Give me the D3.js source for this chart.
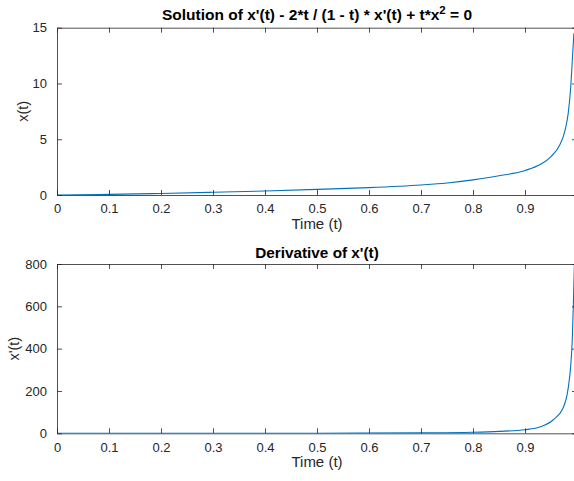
<!DOCTYPE html>
<html><head><meta charset="utf-8">
<script src="https://cdn.jsdelivr.net/npm/d3@7"></script>
<style>
body{margin:0;background:#fff;}
svg{display:block;font-family:"Liberation Sans",Arial,sans-serif;}
</style></head>
<body><svg id="c" width="574" height="481"></svg>
<script>
// Data
const tSol = [0, 0.1, 0.2, 0.3, 0.4, 0.5, 0.6, 0.7, 0.75, 0.8, 0.85, 0.9, 0.93, 0.95, 0.967, 0.977, 0.983, 0.988, 0.991, 0.994];
const xSol = [0, 0.06, 0.14, 0.24, 0.36, 0.5, 0.66, 0.9, 1.08, 1.36, 1.72, 2.2, 2.75, 3.45, 4.5, 5.8, 7.3, 9.7, 12.1, 14.5];
const tDer = [0, 0.5, 0.7, 0.8, 0.85, 0.9, 0.93, 0.954, 0.973, 0.983, 0.988, 0.991, 0.993, 0.995];
const xDer = [0, 0.5, 2, 5, 9, 17, 31, 63, 118, 212, 322, 449, 610, 800];
const xTicks = [0, 0.1, 0.2, 0.3, 0.4, 0.5, 0.6, 0.7, 0.8, 0.9, 1];
const xTickLabels = ["0", "0.1", "0.2", "0.3", "0.4", "0.5", "0.6", "0.7", "0.8", "0.9", ""];
const yTicksTop = [0, 5, 10, 15];
const yTicksBot = [0, 200, 400, 600, 800];
const titleTop = "Solution of x'(t) - 2*t / (1 - t) * x'(t) + t*x";
const titleBot = "Derivative of x'(t)";
const xLabel = "Time (t)";

const svg = d3.select("#c");
const axisColor = "#262626";
const lineColor = "#0072BD";

function panel(cfg){
  const {top, bottom, yDomain, yTicks, t, v, ylab, ylabX, id} = cfg;
  const left = 57, right = 577;
  const x = d3.scaleLinear().domain([0,1]).range([left,right]);
  const y = d3.scaleLinear().domain(yDomain).range([bottom, top]);
  const g = svg.append("g");
  g.append("clipPath").attr("id", id).append("rect")
    .attr("x", left).attr("y", top).attr("width", right-left).attr("height", bottom-top);
  const data = t.map((d,i)=>[d, v[i]]);
  g.append("path").datum(data)
    .attr("clip-path", `url(#${id})`)
    .attr("fill","none").attr("stroke", lineColor).attr("stroke-width",1.1)
    .attr("d", d3.line().x(d=>x(d[0])).y(d=>y(d[1])).curve(d3.curveMonotoneX));
  const fmt = d => xTickLabels[xTicks.indexOf(d)];
  const ax = g.append("g").attr("transform",`translate(0,${bottom})`)
    .call(d3.axisBottom(x).tickValues(xTicks).tickFormat(fmt).tickSizeInner(-5).tickSizeOuter(0).tickPadding(9));
  const axT = g.append("g").attr("transform",`translate(0,${top})`)
    .call(d3.axisTop(x).tickValues(xTicks).tickFormat("").tickSizeInner(-5).tickSizeOuter(0));
  const ay = g.append("g").attr("transform",`translate(${left},0)`)
    .call(d3.axisLeft(y).tickValues(yTicks).tickSizeInner(-5).tickSizeOuter(0).tickPadding(10));
  const ayR = g.append("g").attr("transform",`translate(${right},0)`)
    .call(d3.axisRight(y).tickValues(yTicks).tickFormat("").tickSizeInner(-5).tickSizeOuter(0));
  [ax,axT,ay,ayR].forEach(a=>{
    a.select(".domain").attr("stroke", axisColor).attr("stroke-width",1).attr("stroke-opacity",0.8);
    a.selectAll(".tick line").attr("stroke", axisColor).attr("stroke-opacity",0.8);
    a.selectAll("text").attr("fill", axisColor).style("font-size","13px").style("font-family","'Liberation Sans',Arial,sans-serif");
  });
  g.append("text").attr("x", (left+right)/2).attr("y", bottom+34)
    .attr("text-anchor","middle").attr("fill",axisColor).style("font-size","15px").text(xLabel);
  g.append("text").attr("transform",`translate(${ylabX},${(top+bottom)/2}) rotate(-90)`)
    .attr("text-anchor","middle").attr("fill",axisColor).style("font-size","14.5px").text(ylab);
  return {x,y,left,right,top,bottom};
}

const p1 = panel({top:27.7, bottom:195, yDomain:[0,15], yTicks:yTicksTop, t:tSol, v:xSol, ylab:"x(t)", ylabX:28, id:"c1"});
const p2 = panel({top:264, bottom:433.3, yDomain:[0,800], yTicks:yTicksBot, t:tDer, v:xDer, ylab:"x'(t)", ylabX:19, id:"c2"});

const t1 = svg.append("text").attr("x", (p1.left+p1.right)/2).attr("y", 20)
  .attr("text-anchor","middle").attr("fill","#000").style("font-size","15.5px").style("font-weight","bold");
t1.append("tspan").text(titleTop);
t1.append("tspan").attr("dy",-6).style("font-size","11.5px").text("2");
t1.append("tspan").attr("dy",6).text(" = 0");
svg.append("text").attr("x", (p2.left+p2.right)/2).attr("y", 258)
  .attr("text-anchor","middle").attr("fill","#000").style("font-size","15.3px").style("font-weight","bold").text(titleBot);
</script></body></html>
